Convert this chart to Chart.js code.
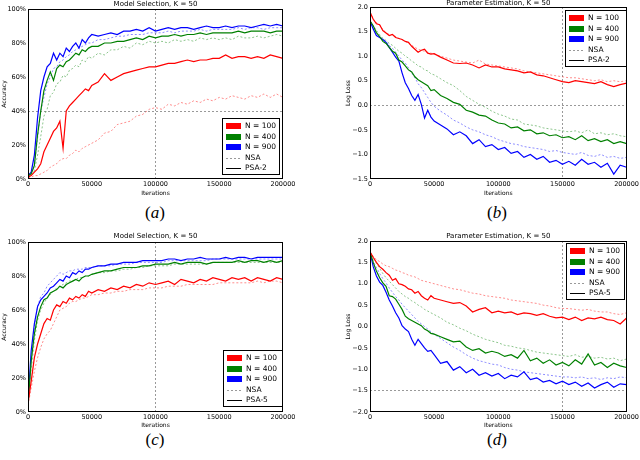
<!DOCTYPE html>
<html>
<head>
<meta charset="utf-8">
<script src="https://cdn.jsdelivr.net/npm/chart.js@4.4.0/dist/chart.umd.min.js"></script>
<style>
  body { margin: 0; background: #fff; }
  #wrap { position: relative; width: 640px; height: 460px; overflow: hidden; }
  canvas { position: absolute; }
  .lbl { position: absolute; font-family: "Liberation Serif", serif; font-size: 17px; transform: translate(-50%, -50%); }
</style>
</head>
<body>
<div id="wrap">
  <canvas id="chartA" width="320" height="200" style="left:0px;top:0px"></canvas>
  <canvas id="chartB" width="300" height="200" style="left:340px;top:0px"></canvas>
  <canvas id="chartC" width="320" height="200" style="left:0px;top:230px"></canvas>
  <canvas id="chartD" width="300" height="200" style="left:340px;top:230px"></canvas>
  <div class="lbl" style="left:155px;top:213px">(<i>a</i>)</div>
  <div class="lbl" style="left:497px;top:213px">(<i>b</i>)</div>
  <div class="lbl" style="left:155px;top:440px">(<i>c</i>)</div>
  <div class="lbl" style="left:497px;top:440px">(<i>d</i>)</div>
</div>
<script>
// x positions shared by every series
const iterations = [0, 2500, 5000, 7500, 10000, 12500, 15000, 17500, 20000, 22500, 25000, 27500, 30000, 32500, 35000, 37500, 40000, 42500, 45000, 47500, 50000,
  55000, 60000, 65000, 70000, 75000, 80000, 85000, 90000, 95000, 100000, 105000, 110000, 115000, 120000, 125000, 130000, 135000, 140000, 145000, 150000,
  155000, 160000, 165000, 170000, 175000, 180000, 185000, 190000, 195000, 200000];
const xTicks = [0, 50000, 100000, 150000, 200000];
const accTicks = [0, 20, 40, 60, 80, 100];
const lossTicksB = [-1.5, -1.0, -0.5, 0.0, 0.5, 1.0, 1.5, 2.0];
const lossTicksD = [-2.0, -1.5, -1.0, -0.5, 0.0, 0.5, 1.0, 1.5, 2.0];
const seriesNames = ['N = 100', 'N = 400', 'N = 900'];

// (a) model selection, PSA-2 vs NSA (accuracy %)
const aPsa100 = [1, 2, 4, 6, 9, 16, 20, 24, 28, 30, 34, 18, 40, 43, 45, 47, 49, 51, 53, 52, 55,
  57, 62, 58, 60, 62, 63, 64, 65, 66, 66, 67, 68, 68, 69, 70, 69, 70, 70, 71, 71, 73, 71, 72, 72, 71, 72, 71, 73, 72, 71];
const aPsa400 = [2, 3, 8, 26, 40, 52, 58, 63, 58, 65, 67, 66, 69, 70, 72, 74, 73, 76, 75, 77, 78,
  78, 80, 80, 81, 81, 82, 83, 82, 84, 83, 84, 84, 85, 84, 85, 85, 86, 85, 86, 86, 86, 86, 87, 86, 87, 87, 87, 86, 87, 87];
const aPsa900 = [2, 4, 14, 36, 52, 60, 66, 68, 74, 70, 74, 72, 77, 75, 78, 80, 77, 82, 80, 83, 85,
  84, 85, 86, 85, 87, 87, 88, 87, 89, 87, 88, 89, 88, 89, 89, 88, 89, 90, 89, 89, 90, 89, 90, 90, 89, 90, 91, 90, 91, 90];
const aNsa100 = [1, 1, 2, 2, 3, 4, 5, 7, 8, 9, 11, 12, 12, 14, 15, 17, 16, 18, 19, 20, 21,
  23, 27, 28, 32, 33, 34, 37, 38, 41, 42, 41, 44, 43, 45, 44, 46, 45, 47, 46, 48, 47, 49, 48, 47, 49, 48, 50, 48, 50, 48];
const aNsa400 = [2, 2, 5, 14, 25, 37, 41, 49, 51, 56, 57, 61, 60, 64, 65, 67, 66, 70, 69, 72, 71,
  74, 73, 76, 76, 78, 77, 80, 79, 81, 80, 81, 80, 82, 81, 82, 81, 83, 82, 83, 82, 83, 82, 84, 83, 83, 84, 83, 84, 85, 84];
const aNsa900 = [2, 3, 8, 24, 40, 48, 56, 60, 65, 66, 69, 70, 72, 73, 75, 76, 77, 78, 79, 80, 80,
  82, 82, 83, 84, 84, 85, 85, 85, 86, 86, 86, 87, 86, 87, 87, 87, 88, 87, 88, 88, 88, 88, 89, 88, 89, 89, 88, 89, 89, 89];

// (b) parameter estimation, PSA-2 vs NSA (log loss)
const bPsa100 = [1.90, 1.75, 1.66, 1.64, 1.52, 1.47, 1.42, 1.44, 1.38, 1.36, 1.34, 1.30, 1.28, 1.20, 1.14, 1.08, 1.12, 1.14, 1.06, 1.04, 1.05,
  0.98, 0.92, 0.86, 0.85, 0.86, 0.82, 0.76, 0.82, 0.78, 0.78, 0.74, 0.72, 0.70, 0.66, 0.68, 0.62, 0.60, 0.56, 0.52, 0.48, 0.46, 0.50, 0.48, 0.46, 0.44, 0.48, 0.42, 0.38, 0.42, 0.45];
const bPsa400 = [1.72, 1.62, 1.48, 1.40, 1.30, 1.26, 1.18, 1.10, 1.06, 0.92, 0.88, 0.80, 0.72, 0.68, 0.58, 0.52, 0.48, 0.44, 0.40, 0.30, 0.32,
  0.20, 0.14, 0.06, 0.02, -0.10, -0.14, -0.20, -0.22, -0.30, -0.36, -0.38, -0.46, -0.44, -0.52, -0.50, -0.58, -0.56, -0.62, -0.60, -0.66, -0.64, -0.70, -0.62, -0.72, -0.68, -0.74, -0.70, -0.78, -0.74, -0.78];
const bPsa900 = [1.72, 1.55, 1.42, 1.38, 1.34, 1.28, 1.18, 1.08, 0.98, 0.90, 0.66, 0.46, 0.34, 0.20, 0.10, 0.22, 0.02, -0.26, -0.10, -0.24, -0.32,
  -0.40, -0.48, -0.60, -0.54, -0.62, -0.78, -0.70, -0.84, -0.80, -0.90, -0.86, -0.98, -0.94, -1.06, -1.00, -1.10, -1.04, -1.16, -1.12, -1.20, -1.14, -1.22, -1.10, -1.20, -1.16, -1.26, -1.18, -1.40, -1.22, -1.26];
const bNsa100 = [1.90, 1.76, 1.68, 1.64, 1.54, 1.48, 1.44, 1.44, 1.40, 1.36, 1.34, 1.30, 1.26, 1.22, 1.18, 1.14, 1.12, 1.10, 1.08, 1.06, 1.04,
  1.00, 0.96, 0.92, 0.90, 0.88, 0.86, 0.92, 0.84, 0.82, 0.80, 0.78, 0.76, 0.74, 0.70, 0.68, 0.66, 0.64, 0.62, 0.60, 0.58, 0.56, 0.56, 0.54, 0.52, 0.50, 0.52, 0.48, 0.50, 0.48, 0.50];
const bNsa400 = [1.72, 1.62, 1.52, 1.44, 1.36, 1.32, 1.26, 1.22, 1.16, 1.10, 1.06, 1.00, 0.96, 0.90, 0.86, 0.80, 0.78, 0.72, 0.70, 0.64, 0.62,
  0.54, 0.46, 0.40, 0.30, 0.18, 0.10, 0.02, -0.04, -0.12, -0.18, -0.22, -0.28, -0.30, -0.38, -0.40, -0.42, -0.46, -0.48, -0.50, -0.52, -0.54, -0.52, -0.56, -0.50, -0.58, -0.56, -0.60, -0.58, -0.62, -0.64];
const bNsa900 = [1.72, 1.58, 1.46, 1.40, 1.34, 1.30, 1.22, 1.16, 1.08, 1.00, 0.92, 0.86, 0.76, 0.66, 0.56, 0.44, 0.36, 0.26, 0.16, 0.06, -0.02,
  -0.12, -0.20, -0.30, -0.36, -0.44, -0.50, -0.54, -0.60, -0.64, -0.70, -0.74, -0.78, -0.80, -0.84, -0.86, -0.88, -0.90, -0.94, -0.92, -0.96, -0.98, -1.00, -0.96, -1.02, -1.04, -1.00, -1.06, -1.04, -1.08, -1.06];

// (c) model selection, PSA-5 vs NSA (accuracy %)
const cPsa100 = [5, 18, 32, 40, 46, 52, 55, 54, 60, 63, 62, 65, 64, 67, 66, 68, 67, 69, 68, 71, 70,
  72, 71, 73, 72, 74, 73, 75, 74, 76, 75, 76, 77, 75, 78, 77, 76, 78, 77, 79, 78, 77, 79, 78, 79, 77, 79, 78, 77, 79, 78];
const cPsa400 = [5, 30, 46, 56, 62, 66, 67, 70, 71, 72, 74, 73, 75, 76, 77, 78, 77, 79, 80, 80, 81,
  82, 83, 83, 84, 85, 85, 85, 86, 86, 87, 87, 87, 88, 87, 88, 88, 88, 87, 88, 88, 88, 88, 89, 88, 89, 89, 88, 89, 88, 89];
const cPsa900 = [6, 36, 52, 62, 66, 68, 70, 73, 74, 76, 78, 77, 80, 79, 82, 81, 83, 82, 84, 84, 85,
  86, 86, 87, 87, 88, 88, 88, 89, 89, 89, 89, 90, 90, 89, 90, 90, 91, 90, 90, 90, 91, 90, 91, 91, 90, 91, 91, 91, 91, 91];
const cNsa100 = [4, 14, 24, 32, 38, 43, 46, 48, 52, 56, 60, 61, 62, 64, 65, 65, 66, 67, 67, 68, 69,
  69, 70, 70, 71, 71, 72, 72, 72, 73, 73, 73, 74, 74, 74, 75, 75, 75, 75, 75, 76, 76, 76, 76, 76, 76, 77, 76, 77, 77, 76];
const cNsa400 = [5, 25, 42, 54, 60, 64, 67, 69, 71, 73, 74, 75, 76, 77, 77, 78, 79, 79, 80, 80, 81,
  82, 82, 83, 83, 84, 84, 85, 85, 86, 86, 86, 86, 87, 87, 87, 87, 87, 87, 88, 88, 88, 88, 88, 88, 88, 88, 88, 88, 88, 88];
const cNsa900 = [6, 30, 50, 62, 68, 70, 74, 76, 78, 80, 82, 81, 82, 83, 83, 84, 84, 84, 85, 85, 85,
  86, 86, 86, 87, 87, 87, 88, 88, 88, 88, 88, 89, 89, 89, 89, 89, 89, 89, 90, 90, 90, 90, 90, 90, 90, 90, 90, 90, 90, 90];

// (d) parameter estimation, PSA-5 vs NSA (log loss)
const dPsa100 = [1.75, 1.62, 1.50, 1.40, 1.34, 1.26, 1.20, 1.08, 1.12, 1.00, 0.98, 0.94, 0.88, 0.86, 0.78, 0.82, 0.72, 0.66, 0.62, 0.72, 0.66,
  0.62, 0.58, 0.54, 0.56, 0.48, 0.34, 0.40, 0.44, 0.32, 0.36, 0.32, 0.34, 0.28, 0.32, 0.30, 0.26, 0.30, 0.24, 0.20, 0.22, 0.16, 0.22, 0.14, 0.20, 0.18, 0.22, 0.16, 0.14, 0.06, 0.20];
const dPsa400 = [1.75, 1.50, 1.30, 1.14, 1.02, 0.94, 0.72, 0.70, 0.64, 0.52, 0.40, 0.24, 0.18, 0.14, 0.10, 0.06, 0.02, -0.06, -0.10, -0.16, -0.18,
  -0.24, -0.30, -0.36, -0.34, -0.48, -0.56, -0.52, -0.62, -0.58, -0.62, -0.70, -0.66, -0.74, -0.56, -0.80, -0.74, -0.86, -0.78, -0.90, -0.84, -0.92, -0.78, -0.88, -0.64, -0.90, -0.84, -0.96, -0.86, -0.92, -0.96];
const dPsa900 = [1.75, 1.40, 1.18, 1.04, 0.96, 0.80, 0.62, 0.48, 0.32, 0.20, 0.02, -0.06, -0.12, -0.30, -0.44, -0.30, -0.40, -0.50, -0.58, -0.56, -0.66,
  -0.86, -0.82, -1.02, -0.94, -1.08, -1.00, -1.14, -1.08, -1.16, -1.10, -1.22, -1.14, -1.18, -1.06, -1.24, -1.20, -1.30, -1.26, -1.34, -1.28, -1.36, -1.30, -1.40, -1.32, -1.44, -1.36, -1.30, -1.42, -1.34, -1.36];
const dNsa100 = [1.75, 1.64, 1.56, 1.52, 1.46, 1.42, 1.40, 1.36, 1.32, 1.30, 1.26, 1.24, 1.20, 1.18, 1.16, 1.12, 1.08, 1.06, 1.04, 1.02, 1.00,
  0.96, 0.92, 0.88, 0.86, 0.82, 0.78, 0.76, 0.72, 0.70, 0.68, 0.66, 0.62, 0.60, 0.58, 0.56, 0.54, 0.50, 0.48, 0.44, 0.42, 0.42, 0.40, 0.38, 0.40, 0.36, 0.34, 0.34, 0.30, 0.28, 0.32];
const dNsa400 = [1.75, 1.60, 1.48, 1.36, 1.24, 1.14, 1.06, 0.98, 0.90, 0.82, 0.76, 0.70, 0.66, 0.60, 0.56, 0.50, 0.46, 0.40, 0.36, 0.32, 0.28,
  0.20, 0.10, 0.04, -0.04, -0.10, -0.18, -0.24, -0.30, -0.34, -0.38, -0.44, -0.46, -0.50, -0.52, -0.56, -0.60, -0.62, -0.64, -0.66, -0.68, -0.70, -0.66, -0.72, -0.70, -0.74, -0.72, -0.76, -0.74, -0.80, -0.76];
const dNsa900 = [1.75, 1.52, 1.38, 1.24, 1.12, 1.02, 0.90, 0.80, 0.70, 0.62, 0.52, 0.44, 0.36, 0.28, 0.20, 0.12, 0.06, 0.00, -0.06, -0.12, -0.18,
  -0.28, -0.38, -0.48, -0.56, -0.66, -0.74, -0.80, -0.84, -0.88, -0.90, -0.96, -1.00, -1.02, -1.06, -1.08, -1.10, -1.12, -1.14, -1.16, -1.18, -1.18, -1.20, -1.18, -1.22, -1.20, -1.24, -1.20, -1.22, -1.18, -1.20];

const solidColors = ['#ff0000', '#008000', '#0000ff'];
const fadedColors = ['rgba(255,0,0,0.45)', 'rgba(0,128,0,0.45)', 'rgba(0,0,255,0.45)'];
const FONT = '"DejaVu Sans", sans-serif';

function pts(arr) {
  return arr.map((y, i) => ({ x: iterations[i], y: y }));
}

function makeSets(psa, nsa) {
  let sets = [];
  // PSA first so it is painted on top of the dotted NSA lines
  psa.forEach((arr, i) => sets.push({ data: pts(arr), borderColor: solidColors[i], borderWidth: 1.2, pointRadius: 0, tension: 0 }));
  nsa.forEach((arr, i) => sets.push({ data: pts(arr), borderColor: fadedColors[i], borderWidth: 1, borderDash: [2, 2], pointRadius: 0, tension: 0 }));
  return sets;
}

// plot frame + legend box inside the plot area
const frameLegend = {
  id: 'frameLegend',
  afterDraw(chart, args, o) {
    const ctx = chart.ctx, a = chart.chartArea;
    ctx.save();
    ctx.strokeStyle = '#000';
    ctx.lineWidth = 1;
    ctx.strokeRect(Math.round(a.left) + 0.5, Math.round(a.top) + 0.5, Math.round(a.right - a.left) - 1, Math.round(a.bottom - a.top) - 1);

    const w = o.w, h = 57;
    const x = Math.round(a.right - o.dx - w);
    const y = Math.round(o.top ? a.top + o.dy : a.bottom - o.dy - h);
    ctx.fillStyle = '#fff';
    ctx.fillRect(x, y, w, h);
    ctx.strokeRect(x + 0.5, y + 0.5, w - 1, h - 1);

    const labels = seriesNames.concat(['NSA', o.psa]);
    ctx.font = '7.5px ' + FONT;
    ctx.textBaseline = 'middle';
    labels.forEach((lab, i) => {
      const ry = Math.round(y + 8 + i * 10.6);
      if (i < 3) {
        ctx.fillStyle = solidColors[i];
        ctx.fillRect(x + 4, ry - 3, 15, 6);
      } else {
        ctx.beginPath();
        ctx.setLineDash(i === 3 ? [2, 2] : []);
        ctx.strokeStyle = i === 3 ? '#999' : '#000';
        ctx.moveTo(x + 4, ry + 0.5);
        ctx.lineTo(x + 19, ry + 0.5);
        ctx.stroke();
        ctx.setLineDash([]);
      }
      ctx.fillStyle = '#000';
      ctx.fillText(lab, x + 23, ry);
    });
    ctx.restore();
  }
};

function makeChart(id, p) {
  let ctx = document.getElementById(id).getContext('2d');
  return new Chart(ctx, {
    type: 'line',
    data: { datasets: makeSets(p.psa, p.nsa) },
    plugins: [frameLegend],
    options: {
      responsive: false,
      animation: false,
      layout: { padding: { right: p.padRight } },
      plugins: {
        legend: { display: false },
        tooltip: { enabled: false },
        title: {
          display: true, text: p.title, fullSize: false, color: '#000',
          font: { family: FONT, size: 7, weight: 'normal', lineHeight: 1 },
          padding: p.titlePad
        },
        frameLegend: p.legend
      },
      scales: {
        x: {
          type: 'linear', min: 0, max: 200000,
          afterBuildTicks: s => { s.ticks = xTicks.map(v => ({ value: v })); },
          afterFit: s => { s.height = p.xHeight; },
          ticks: { autoSkip: false, maxRotation: 0, padding: 1, color: '#000', font: { family: FONT, size: 6.5 }, callback: v => String(v) },
          grid: { drawTicks: false, lineWidth: 1, color: c => (c.tick && c.tick.value === p.gridX) ? '#999' : 'rgba(0,0,0,0)' },
          border: { display: false, dash: [2, 2] },
          title: { display: true, text: 'Iterations', color: '#000', font: { family: FONT, size: 6, lineHeight: 1.2 }, padding: { top: 0, bottom: p.xTitlePad } }
        },
        y: {
          min: p.yTicks[0], max: p.yTicks[p.yTicks.length - 1],
          afterBuildTicks: s => { s.ticks = p.yTicks.map(v => ({ value: v })); },
          afterFit: s => { s.width = p.yWidth; },
          ticks: { autoSkip: false, padding: 2, color: '#000', font: { family: FONT, size: 6.5 }, callback: p.yFmt },
          grid: { drawTicks: false, lineWidth: 1, color: c => (c.tick && c.tick.value === p.gridY) ? '#999' : 'rgba(0,0,0,0)' },
          border: { display: false, dash: [2, 2] },
          title: { display: true, text: p.yTitle, color: '#000', font: { family: FONT, size: 6, lineHeight: 1.2 }, padding: { top: p.yTitlePad, bottom: 0 } }
        }
      }
    }
  });
}

const pct = v => v + '%';
const dec = v => (v < 0 ? '\u2212' : '') + Math.abs(v).toFixed(1);

let chartA = makeChart('chartA', {
  title: 'Model Selection, K = 50', titlePad: { top: 1, bottom: 1 },
  psa: [aPsa100, aPsa400, aPsa900], nsa: [aNsa100, aNsa400, aNsa900],
  yTicks: accTicks, yFmt: pct, yTitle: 'Accuracy', yWidth: 28, yTitlePad: 0.5,
  xHeight: 21, xTitlePad: 3.4, padRight: 37, gridX: 100000, gridY: 40,
  legend: { psa: 'PSA-2', w: 58, dx: 3, dy: 4, top: false }
});

let chartB = makeChart('chartB', {
  title: 'Parameter Estimation, K = 50', titlePad: { top: 0, bottom: 0 },
  psa: [bPsa100, bPsa400, bPsa900], nsa: [bNsa100, bNsa400, bNsa900],
  yTicks: lossTicksB, yFmt: dec, yTitle: 'Log Loss', yWidth: 30, yTitlePad: 4.4,
  xHeight: 21, xTitlePad: 3.4, padRight: 13, gridX: 150000, gridY: 0,
  legend: { psa: 'PSA-2', w: 62, dx: 0, dy: 3, top: true }
});

let chartC = makeChart('chartC', {
  title: 'Model Selection, K = 50', titlePad: { top: 3, bottom: 2 },
  psa: [cPsa100, cPsa400, cPsa900], nsa: [cNsa100, cNsa400, cNsa900],
  yTicks: accTicks, yFmt: pct, yTitle: 'Accuracy', yWidth: 28, yTitlePad: 0.5,
  xHeight: 18, xTitlePad: 1.4, padRight: 37, gridX: 100000, gridY: null,
  legend: { psa: 'PSA-5', w: 60, dx: 0, dy: 5, top: false }
});

let chartD = makeChart('chartD', {
  title: 'Parameter Estimation, K = 50', titlePad: { top: 3, bottom: 1 },
  psa: [dPsa100, dPsa400, dPsa900], nsa: [dNsa100, dNsa400, dNsa900],
  yTicks: lossTicksD, yFmt: dec, yTitle: 'Log Loss', yWidth: 30, yTitlePad: 4.4,
  xHeight: 18, xTitlePad: 1.4, padRight: 13, gridX: 150000, gridY: -1.5,
  legend: { psa: 'PSA-5', w: 59, dx: 2, dy: 2, top: true }
});
</script>
</body>
</html>
